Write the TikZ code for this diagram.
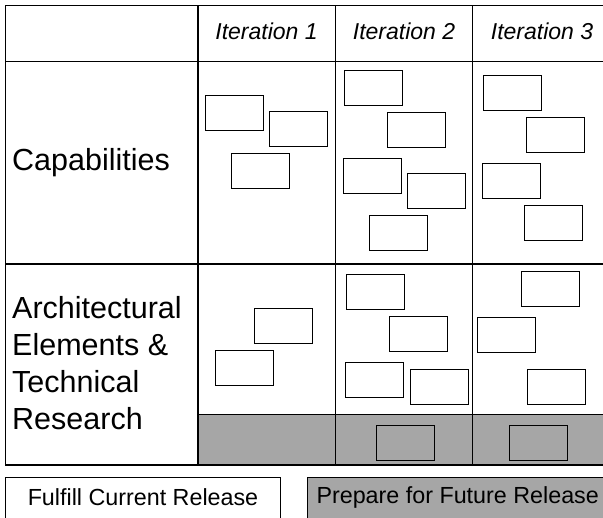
\documentclass[tikz,border=0pt]{standalone}
\usepackage{fontspec}
\setmainfont{Liberation Sans}
\usetikzlibrary{positioning}

\definecolor{stripgray}{RGB}{166,166,166}
\tikzset{
  card/.style={draw=black,line width=0.9pt,minimum width=58pt,minimum height=35pt,inner sep=0pt},
  grid/.style={line width=1.3pt},
  header/.style={font=\fontsize{23}{27}\selectfont\itshape},
  rowlabel/.style={font=\fontsize{30.5}{37}\selectfont,align=left,anchor=west,inner sep=0pt},
  legend/.style={font=\fontsize{23.3}{27}\selectfont}
}

\begin{document}
\begin{tikzpicture}[x=1pt,y=-1pt]
    \useasboundingbox (0,0) rectangle (603,518);
    % Gray strip
    \fill[stripgray] (198,414.7) rectangle (610,465);
    % Table
    \draw[grid] (610,5.3) -- (5.5,5.3) -- (5.5,465) -- (610,465);
    \draw[grid] (5.5,61.7) -- (610,61.7);
    \draw[grid] (5.5,264) -- (610,264);
    \draw[grid] (198,414.7) -- (610,414.7);
    \foreach \x in {198,335.5,472.8}
      \draw[grid] (\x,5.3) -- (\x,465);
    % Headers
    \node[header] (it1) at (266.5,31) {Iteration 1};
    \node[header] (it2) at (404,31) {Iteration 2};
    \node[header] (it3) at (542,31) {Iteration 3};
    % Row labels
    \node[rowlabel] (cap) at (12,163) {Capabilities};
    \node[rowlabel] (arch) at (12,363.5) {Architectural\\Elements \&\\Technical\\Research};
    % Capabilities, iteration 1
    \node[card] (c1a) at (234.3,113.3) {};
    \node[card] (c1b) at (298.8,128.5) {};
    \node[card] (c1c) at (260.3,170.5) {};
    % Capabilities, iteration 2
    \node[card] (c2a) at (373.7,88.3) {};
    \node[card] (c2b) at (416.3,130.2) {};
    \node[card] (c2c) at (372.3,176.2) {};
    \node[card] (c2d) at (436.8,191.3) {};
    \node[card] (c2e) at (398.3,233.2) {};
    % Capabilities, iteration 3
    \node[card] (c3a) at (512.3,92.8) {};
    \node[card] (c3b) at (555,135) {};
    \node[card] (c3c) at (511,180.8) {};
    \node[card] (c3d) at (553.7,222.8) {};
    % Architecture, iteration 1
    \node[card] (a1a) at (283.2,325.7) {};
    \node[card] (a1b) at (244.5,367.8) {};
    % Architecture, iteration 2
    \node[card] (a2a) at (375.7,291.8) {};
    \node[card] (a2b) at (418.3,334) {};
    \node[card] (a2c) at (374.3,379.8) {};
    \node[card] (a2d) at (439.3,386.5) {};
    \node[card] (a2e) at (405.5,443.3) {};
    % Architecture, iteration 3
    \node[card] (a3a) at (550.2,289) {};
    \node[card] (a3b) at (506.3,334.8) {};
    \node[card] (a3c) at (556.3,387.3) {};
    \node[card] (a3d) at (538.3,443.2) {};
    % Legend
    \draw[line width=0.9pt] (5.7,530) -- (5.7,477.3) -- (280.3,477.3) -- (280.3,530);
    \filldraw[fill=stripgray,line width=0.9pt] (307.3,530) -- (307.3,477.3) -- (615,477.3) -- (615,530) -- cycle;
    \node[legend] (cur) at (143,497) {Fulfill Current Release};
    \node[legend,anchor=west] (fut) at (313,497) {Prepare for Future Release};
\end{tikzpicture}
\end{document}
